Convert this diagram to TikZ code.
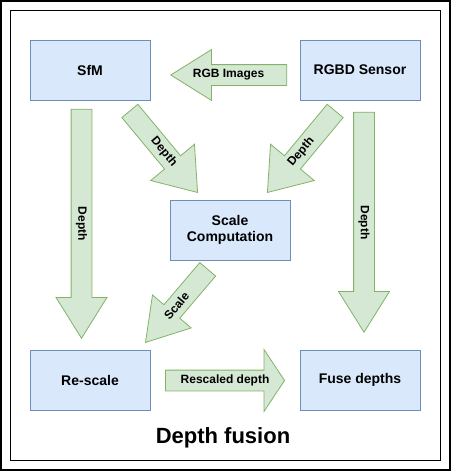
\documentclass[tikz,border=0pt]{standalone}
\usepackage{fontspec}
\setmainfont{Liberation Sans}
\usetikzlibrary{shapes.arrows,calc}
\definecolor{boxfill}{HTML}{DAE8FC}
\definecolor{boxline}{HTML}{6C8EBF}
\definecolor{flowfill}{HTML}{D5E8D4}
\definecolor{flowline}{HTML}{82B366}
\begin{document}
\begin{tikzpicture}[x=1pt,y=-1pt]
    \tikzstyle{box}=[draw=boxline,fill=boxfill,line width=0.8pt,minimum width=120pt,minimum height=60pt,align=center,font=\fontsize{14}{16.5}\selectfont\bfseries]
    \tikzstyle{flow}=[single arrow,anchor=tip,draw=flowline,fill=flowfill,line width=0.8pt,text height=8.5pt,text depth=2.5pt,inner ysep=4.5pt,inner xsep=2pt,single arrow head extend=15pt,single arrow tip angle=64]
    \tikzstyle{lbl}=[inner sep=0pt,font=\fontsize{12}{14}\selectfont\bfseries]
    \useasboundingbox (0,0) rectangle (451,471);
      \draw[line width=1.5pt] (1,1) rectangle (450,470);
      \draw[line width=1.5pt] (10.5,10.5) rectangle (440.5,460.5);

      \node (SfM) at (90, 70) [box] {SfM};
      \node (RGBD) at (360, 70) [box] {RGBD Sensor};
      \node (SC) at (230, 230) [box] {Scale\\Computation};
      \node (RS) at (90, 380) [box] {Re-scale};
      \node (FD) at (360, 380) [box] {Fuse depths};

      % block arrows, placed by their tips
      \node (a1) at (170, 75) [flow,shape border rotate=180,minimum height=116pt] {};
      \node (a2) at (81.5, 339) [flow,rotate=-90,minimum height=229pt] {};
      \node (a3) at (364, 333) [flow,rotate=-90,minimum height=220pt] {};
      \node (a4) at (198, 193) [flow,rotate=-50.3,minimum height=106pt,single arrow head extend=18pt,single arrow tip angle=72] {};
      \node (a5) at (267, 193) [flow,shape border rotate=180,rotate=50.3,minimum height=106pt,single arrow head extend=18pt,single arrow tip angle=72] {};
      \node (a6) at (145, 343) [flow,shape border rotate=180,rotate=49.6,minimum height=96pt] {};
      \node (a7) at (285, 380.5) [flow,minimum height=119pt,single arrow head extend=20.5pt,single arrow tip angle=113] {};

      \node (t1) at ($(a1.tail)!0.5!(a1.tip)$) [lbl] {RGB Images};
      \node (t2) at ($(a2.tail)!0.5!(a2.tip)$) [lbl,rotate=-90] {Depth};
      \node (t3) at ($(a3.tail)!0.5!(a3.tip)$) [lbl,rotate=-90] {Depth};
      \node (t4) at ($(a4.tail)!0.5!(a4.tip)$) [lbl,rotate=-50.3] {Depth};
      \node (t5) at ($(a5.tail)!0.5!(a5.tip)$) [lbl,rotate=50.3] {Depth};
      \node (t6) at ($(a6.tail)!0.5!(a6.tip)$) [lbl,rotate=49.6] {Scale};
      \node (t7) at ($(a7.tail)!0.5!(a7.tip)$) [lbl] {Rescaled depth};

      \node (T) at (223, 438) [font=\fontsize{22}{26}\selectfont\bfseries] {Depth fusion};
  \end{tikzpicture}
\end{document}
